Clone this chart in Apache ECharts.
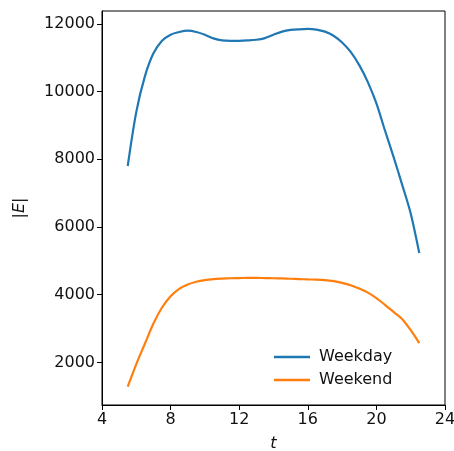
<!DOCTYPE html>
<html>
<head>
<meta charset="utf-8">
<script src="https://cdn.jsdelivr.net/npm/echarts@6/dist/echarts.min.js"></script>
<style>
  html, body { margin: 0; padding: 0; background: #fff; }
  #main { width: 454px; height: 451px; }
</style>
</head>
<body>
<div id="main"></div>
<script>
// hours of the day (half hour steps)
const hours = [5.5, 6, 6.5, 7, 7.5, 8, 8.5, 9, 9.5, 10, 10.5, 11, 11.5, 12, 12.5, 13, 13.5,
  14, 14.5, 15, 15.5, 16, 16.5, 17, 17.5, 18, 18.5, 19, 19.5, 20, 20.5, 21, 21.5, 22, 22.5];

const weekday = [7800, 9400, 10450, 11130, 11500, 11680, 11760, 11800, 11760, 11680, 11570, 11510, 11500,
  11500, 11510, 11530, 11580, 11680, 11770, 11820, 11840, 11850, 11830, 11770, 11650, 11450, 11170,
  10780, 10280, 9650, 8850, 8070, 7250, 6400, 5230];

const weekend = [1280, 1950, 2550, 3150, 3620, 3950, 4170, 4300, 4380, 4430, 4460, 4475, 4485,
  4490, 4495, 4495, 4490, 4485, 4480, 4470, 4460, 4450, 4445, 4430, 4400, 4350, 4280,
  4180, 4060, 3900, 3700, 3490, 3280, 2950, 2570];

const yTicks = [2000, 4000, 6000, 8000, 10000, 12000];

const pairs = (ys) => hours.map((h, i) => [h, ys[i]]);

const chart = echarts.init(document.getElementById('main'));

const font = 'DejaVu Sans';
const ink = '#111';

const option = {
  animation: false,
  textStyle: { fontFamily: font },
  grid: {
    left: 102, right: 9, top: 11, bottom: 46,
    outerBoundsMode: 'none',
    show: true,
    borderColor: '#000',
    borderWidth: 1
  },
  legend: {
    orient: 'vertical',
    left: 269,
    top: 344,
    icon: 'rect',
    itemWidth: 36,
    itemHeight: 2.4,
    itemGap: 7,
    textStyle: { fontFamily: font, fontSize: 16, color: ink, padding: [0, 0, 0, 4] },
    data: ['Weekday', 'Weekend']
  },
  xAxis: {
    type: 'value',
    min: 4,
    max: 24,
    interval: 4,
    name: 't',
    nameLocation: 'middle',
    nameGap: 31,
    nameTextStyle: { fontFamily: font, fontSize: 16, fontStyle: 'italic', color: ink },
    splitLine: { show: false },
    axisLine: { show: true, lineStyle: { color: '#000', width: 1 } },
    axisTick: { show: true, length: 5, lineStyle: { color: '#000', width: 1 } },
    axisLabel: { fontFamily: font, fontSize: 16, color: ink, margin: 7 }
  },
  yAxis: {
    type: 'value',
    min: 740,
    max: 12380,
    name: '|E|',
    nameLocation: 'middle',
    nameGap: 74,
    nameTextStyle: { fontFamily: font, fontSize: 16, fontStyle: 'italic', color: ink },
    splitLine: { show: false },
    axisLine: { show: true, lineStyle: { color: '#000', width: 1 } },
    axisTick: { show: true, length: 5, customValues: yTicks, lineStyle: { color: '#000', width: 1 } },
    axisLabel: {
      fontFamily: font, fontSize: 16, color: ink, margin: 7, customValues: yTicks,
      formatter: (v) => String(v)
    }
  },
  series: [
    {
      name: 'Weekday',
      type: 'line',
      data: pairs(weekday),
      smooth: 0.3,
      symbol: 'none',
      color: '#1f77b4',
      lineStyle: { width: 2.2 }
    },
    {
      name: 'Weekend',
      type: 'line',
      data: pairs(weekend),
      smooth: 0.3,
      symbol: 'none',
      color: '#ff7f0e',
      lineStyle: { width: 2.2 }
    }
  ]
};

chart.setOption(option);
</script>
</body>
</html>
